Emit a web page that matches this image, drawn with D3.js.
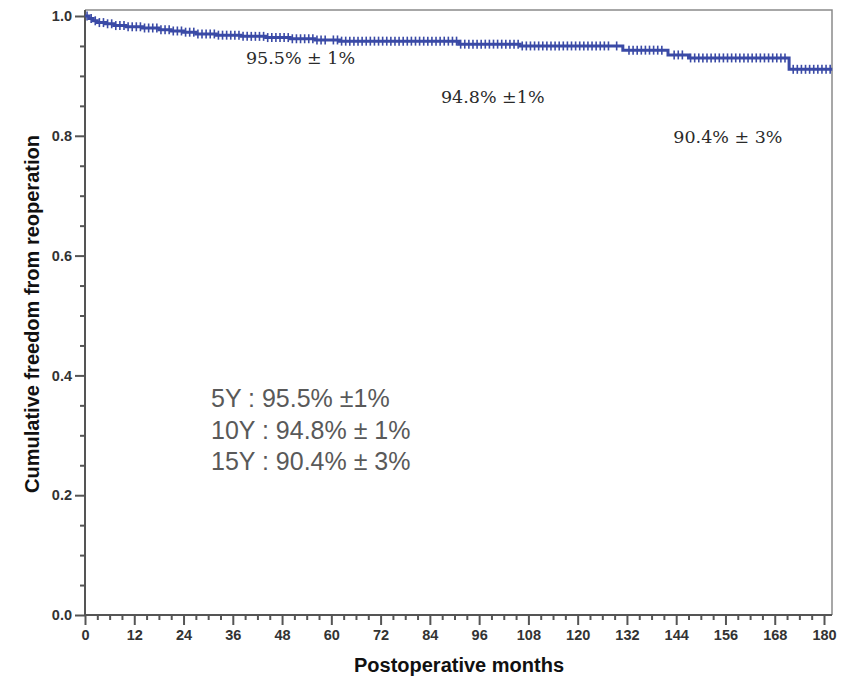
<!DOCTYPE html>
<html>
<head>
<meta charset="utf-8">
<script src="https://cdn.jsdelivr.net/npm/d3@7"></script>
<style>
  html, body { margin: 0; padding: 0; background: #fff; }
  svg { display: block; }
</style>
</head>
<body>
<svg id="chart" width="847" height="682"></svg>
<script>
// ---- data ----
const stepMonths   = [0, 1, 2, 3, 5, 7, 10, 14, 18, 21, 24, 27, 32, 38, 44, 50, 56, 62, 91, 106, 131, 142, 147, 171.5, 182];
const stepSurvival = [1.0, 0.996, 0.992, 0.989, 0.987, 0.984, 0.982, 0.980, 0.977, 0.975, 0.973, 0.970, 0.968, 0.966, 0.964, 0.962, 0.960, 0.958, 0.953, 0.950, 0.943, 0.935, 0.930, 0.911, 0.911];
const censorMonths = [0.5,1.5,2.5,3.5,4.5,5.5,6.5,7.5,8.5,9.5,10.5,11.5,12.5,13.5,14.5,15.5,16.5,17.5,18.5,19.5,20.5,21.5,22.5,23.5,24.5,25.5,26.5,27.5,28.5,29.5,30.5,31.5,32.5,33.5,34.5,35.5,36.5,37.5,38.5,39.5,40.5,41.5,42.5,43.5,44.5,45.5,46.5,47.5,48.5,49.5,50.5,51.5,52.5,53.5,54.5,55.5,56.5,57.5,58.5,60.5,61.5,62.5,63.5,64.5,65.5,66.5,67.5,68.5,69.5,70.5,71.5,72.5,73.5,74.5,75.5,76.5,77.5,78.5,79.5,80.5,81.5,82.5,83.5,84.5,85.5,86.5,87.5,88.5,89.5,90.5,91.5,92.5,93.5,94.5,95.5,96.5,97.5,98.5,99.5,100.5,101.5,102.5,103.5,104.5,105.5,106.5,107.5,108.5,109.5,110.5,111.5,112.5,113.5,114.5,115.5,116.5,117.5,118.5,119.5,120.5,121.5,122.5,123.5,124.5,125.5,126.5,127.5,129.5,132.5,133.5,134.5,135.5,136.5,137.5,138.5,139.5,140.5,143.5,144.5,145.5,147.5,148.5,149.5,150.5,151.5,152.5,153.5,154.5,155.5,156.5,157.5,158.5,159.5,160.5,161.5,162.5,163.5,164.5,165.5,166.5,167.5,168.5,169.5,170.5,172.5,173.5,174.5,175.5,176.5,177.5,178.5,179.5,180.5,181.5];
const xTickValues  = [0, 12, 24, 36, 48, 60, 72, 84, 96, 108, 120, 132, 144, 156, 168, 180];
const xMinorTicks  = [3,6,9,15,18,21,27,30,33,39,42,45,51,54,57,63,66,69,75,78,81,87,90,93,99,102,105,111,114,117,123,126,129,135,138,141,147,150,153,159,162,165,171,174,177];
const yTickValues  = [0.0, 0.2, 0.4, 0.6, 0.8, 1.0];
const yMinorTicks  = [0.05,0.1,0.15,0.25,0.3,0.35,0.45,0.5,0.55,0.65,0.7,0.75,0.85,0.9,0.95];
const curveNotes   = [
  {month: 39.2, value: 0.920, text: "95.5% ± 1%"},
  {month: 86.7, value: 0.855, text: "94.8% ±1%"},
  {month: 143.3, value: 0.788, text: "90.4% ± 3%"}
];
const summaryLines = ["5Y : 95.5% ±1%", "10Y : 94.8% ± 1%", "15Y : 90.4% ± 3%"];
const xTitle = "Postoperative months";
const yTitle = "Cumulative freedom from reoperation";

// ---- layout ----
const svg = d3.select("#chart");
const x = d3.scaleLinear().domain([0, 180]).range([85, 824]);
const y = d3.scaleLinear().domain([0, 1]).range([615, 16]);
const boxRight = 832, boxTop = 10;
const curveColor = "#3a4aa6";

// box (top + right)
svg.append("path")
  .attr("d", `M${x(0)},${boxTop}H${boxRight}V${y(0)}`)
  .attr("fill", "none").attr("stroke", "#8a8a8a").attr("stroke-width", 1.5);

// axes lines
svg.append("line").attr("x1", x(0)).attr("x2", boxRight).attr("y1", y(0)).attr("y2", y(0))
  .attr("stroke", "#555").attr("stroke-width", 2);
svg.append("line").attr("x1", x(0)).attr("x2", x(0)).attr("y1", y(0)).attr("y2", boxTop)
  .attr("stroke", "#555").attr("stroke-width", 2);

// x axis
const xAxis = d3.axisBottom(x).tickValues(xTickValues).tickSize(10).tickPadding(5)
  .tickFormat(d3.format("d"));
const gx = svg.append("g").attr("transform", `translate(0,${y(0)})`).call(xAxis);
gx.select(".domain").remove();
gx.selectAll(".tick line").attr("stroke", "#555").attr("stroke-width", 2);
gx.selectAll(".tick text").attr("fill", "#333").attr("font-family", "Liberation Sans, Arial, sans-serif")
  .attr("font-weight", "bold").attr("font-size", 14.5);
const gxm = svg.append("g").attr("transform", `translate(0,${y(0)})`)
  .call(d3.axisBottom(x).tickValues(xMinorTicks).tickSize(5).tickFormat(""));
gxm.select(".domain").remove();
gxm.selectAll(".tick line").attr("stroke", "#555").attr("stroke-width", 2);

// y axis
const yAxis = d3.axisLeft(y).tickValues(yTickValues).tickSize(10).tickPadding(3)
  .tickFormat(d3.format(".1f"));
const gy = svg.append("g").attr("transform", `translate(${x(0)},0)`).call(yAxis);
gy.select(".domain").remove();
gy.selectAll(".tick line").attr("stroke", "#555").attr("stroke-width", 2);
gy.selectAll(".tick text").attr("fill", "#333").attr("font-family", "Liberation Sans, Arial, sans-serif")
  .attr("font-weight", "bold").attr("font-size", 14.5);
const gym = svg.append("g").attr("transform", `translate(${x(0)},0)`)
  .call(d3.axisLeft(y).tickValues(yMinorTicks).tickSize(5).tickFormat(""));
gym.select(".domain").remove();
gym.selectAll(".tick line").attr("stroke", "#555").attr("stroke-width", 2);

// axis titles
svg.append("text").attr("x", 459).attr("y", 672).attr("text-anchor", "middle")
  .attr("font-family", "Liberation Sans, Arial, sans-serif").attr("font-weight", "bold")
  .attr("font-size", 20).attr("fill", "#111").text(xTitle);
svg.append("text").attr("transform", "translate(39,314) rotate(-90)").attr("text-anchor", "middle")
  .attr("font-family", "Liberation Sans, Arial, sans-serif").attr("font-weight", "bold")
  .attr("font-size", 20).attr("fill", "#111").text(yTitle);

// KM step curve
const pts = stepMonths.map((m, i) => [m, stepSurvival[i]]);
const line = d3.line().x(d => x(d[0])).y(d => y(d[1])).curve(d3.curveStepAfter);
svg.append("path").datum(pts).attr("d", line)
  .attr("fill", "none").attr("stroke", curveColor).attr("stroke-width", 3);

// censor marks
function survAt(t) {
  let v = stepSurvival[0];
  for (let i = 0; i < stepMonths.length; i++) { if (stepMonths[i] <= t) v = stepSurvival[i]; }
  return v;
}
svg.append("g").selectAll("line").data(censorMonths).join("line")
  .attr("x1", d => x(d)).attr("x2", d => x(d))
  .attr("y1", d => y(survAt(d)) - 4.5).attr("y2", d => y(survAt(d)) + 4.5)
  .attr("stroke", curveColor).attr("stroke-width", 1.6);

// curve annotations
svg.append("g").selectAll("text").data(curveNotes).join("text")
  .attr("x", d => x(d.month)).attr("y", d => y(d.value))
  .attr("font-family", "DejaVu Serif, serif").attr("font-size", 17.5)
  .attr("fill", "#2a2a2a").text(d => d.text);

// summary block
svg.append("g").selectAll("text").data(summaryLines).join("text")
  .attr("x", 211).attr("y", (d, i) => 407 + i * 31.5)
  .attr("font-family", "Liberation Sans, Arial, sans-serif").attr("font-size", 25)
  .attr("fill", "#595959").text(d => d);
</script>
</body>
</html>
